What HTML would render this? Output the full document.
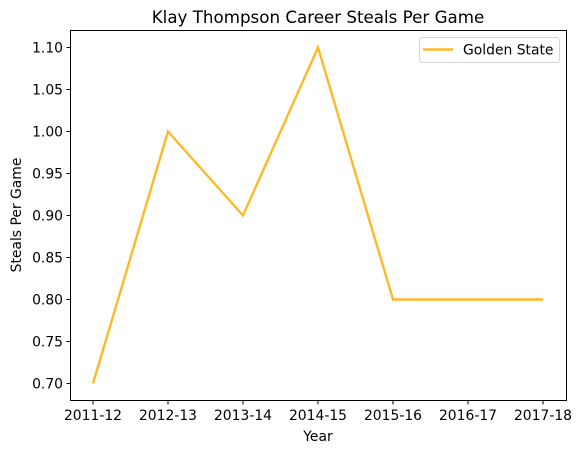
<!DOCTYPE html>
<html><head><meta charset="utf-8"><style>
body{margin:0;background:#fff;}
svg{display:block;font-family:"DejaVu Sans","Liberation Sans",sans-serif;}
</style></head><body>
<svg id="chart" width="582" height="453" viewBox="0 0 582 453">
<text x="318" y="23" font-size="16.7" text-anchor="middle" fill="#000">Klay Thompson Career Steals Per Game</text>
<g id="yticks"></g><g id="xticks"></g>
<polyline id="line" fill="none" stroke="#fdb927" stroke-width="2.4" stroke-linejoin="miter"/>
<rect x="70.5" y="30.5" width="496" height="370" fill="none" stroke="#000" stroke-width="1"/>
<text x="318" y="441" font-size="13.9" text-anchor="middle">Year</text>
<text transform="translate(21,215) rotate(-90)" font-size="13.9" text-anchor="middle">Steals Per Game</text>
<g>
<rect x="419.5" y="37.5" width="140" height="25" rx="3" fill="#fff" stroke="#d5d5d5"/>
<line x1="423" y1="49.5" x2="453" y2="49.5" stroke="#fdb927" stroke-width="2.4"/>
<text x="463" y="54.5" font-size="13.9">Golden State</text>
</g>
</svg>
<script>
const categories=["2011-12","2012-13","2013-14","2014-15","2015-16","2016-17","2017-18"];
const steals=[0.7,1.0,0.9,1.1,0.8,0.8,0.8];
const yTicks=[0.70,0.75,0.80,0.85,0.90,0.95,1.00,1.05,1.10];
const NS="http://www.w3.org/2000/svg";
function xs(i){return 93+i*75;}
function ys(v){return 383.5-(v-0.7)*840;}
const yg=document.getElementById('yticks'),xg=document.getElementById('xticks');
yTicks.forEach(t=>{
 const y=ys(t);
 const l=document.createElementNS(NS,'line');
 l.setAttribute('x1',66.5);l.setAttribute('x2',70.5);l.setAttribute('y1',y);l.setAttribute('y2',y);l.setAttribute('stroke','#000');
 
 
 yg.appendChild(l);
 const tx=document.createElementNS(NS,'text');
 tx.setAttribute('x',63);tx.setAttribute('y',y+5);tx.setAttribute('font-size','13.9');tx.setAttribute('text-anchor','end');
 tx.textContent=t.toFixed(2);
 
 
 yg.appendChild(tx);
});
categories.forEach((c,i)=>{
 const x=xs(i);
 const l=document.createElementNS(NS,'line');
 l.setAttribute('x1',x);l.setAttribute('x2',x);l.setAttribute('y1',400.5);l.setAttribute('y2',404.5);l.setAttribute('stroke','#000');
 
 
 xg.appendChild(l);
 const tx=document.createElementNS(NS,'text');
 tx.setAttribute('x',x);tx.setAttribute('y',420);tx.setAttribute('font-size','13.9');tx.setAttribute('text-anchor','middle');
 tx.textContent=c;
 
 
 xg.appendChild(tx);
});
document.getElementById('line').setAttribute('points',steals.map((v,i)=>xs(i)+','+ys(v)).join(' '));
</script>
</body></html>
